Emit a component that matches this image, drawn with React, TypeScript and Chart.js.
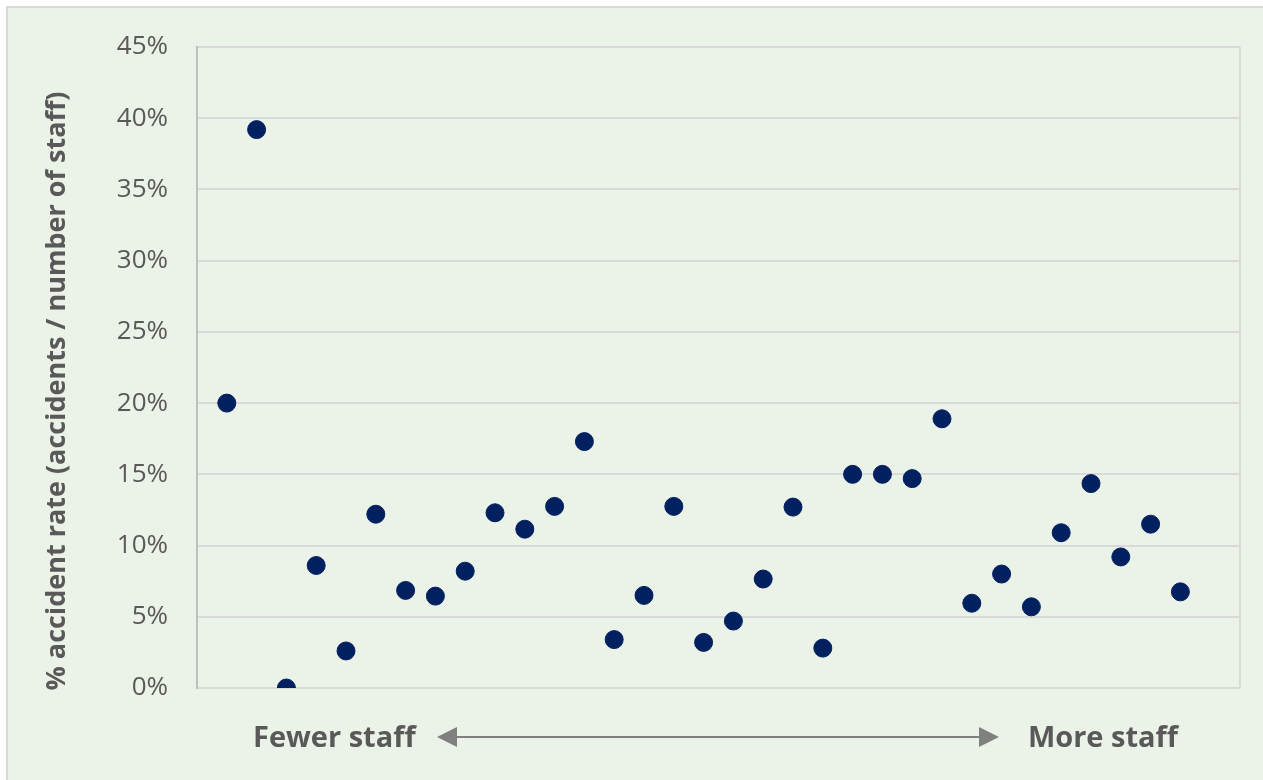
import React, { useEffect, useRef } from "react";
import { Chart, registerables } from "chart.js";

Chart.register(...registerables);

const staffRank: number[] = [
  1, 2, 3, 4, 5, 6, 7, 8, 9, 10, 11, 12, 13, 14, 15, 16, 17, 18, 19, 20, 21, 22,
  23, 24, 25, 26, 27, 28, 29, 30, 31, 32, 33,
];
const accidentRate: number[] = [
  20.0, 39.2, 0.0, 8.6, 2.6, 12.2, 6.85, 6.45, 8.2, 12.3, 11.15, 12.75, 17.3,
  3.4, 6.5, 12.75, 3.2, 4.7, 7.65, 12.7, 2.8, 15.0, 15.0, 14.7, 18.9, 5.95, 8.0,
  5.7, 10.9, 14.35, 9.2, 11.5, 6.75,
];
const yTicks: number[] = [0, 5, 10, 15, 20, 25, 30, 35, 40, 45];
const yTitle = "% accident rate (accidents / number of staff)";
const leftLabel = "Fewer staff";
const rightLabel = "More staff";

const textGrey = "#595959";

const overlayPlugin = {
  id: "overlay",
  afterDraw(chart: any) {
    const { ctx, chartArea } = chart;
    ctx.save();
    // right border of plot area
    ctx.strokeStyle = "#d9d9d9";
    ctx.lineWidth = 2;
    ctx.beginPath();
    ctx.moveTo(chartArea.right, chartArea.top);
    ctx.lineTo(chartArea.right, chartArea.bottom);
    ctx.stroke();

    // y axis title
    ctx.fillStyle = textGrey;
    ctx.font = "bold 27px 'Open Sans'";
    ctx.textAlign = "center";
    ctx.textBaseline = "middle";
    ctx.save();
    ctx.translate(57, 391);
    ctx.rotate(-Math.PI / 2);
    ctx.fillText(yTitle, 0, 0);
    ctx.restore();

    // bottom labels
    const y = 737;
    ctx.font = "bold 29px 'Open Sans'";
    ctx.textAlign = "left";
    ctx.fillText(leftLabel, 253, y + 2);
    ctx.textAlign = "right";
    ctx.fillText(rightLabel, 1178, y + 2);

    // arrow
    ctx.strokeStyle = "#808080";
    ctx.fillStyle = "#808080";
    ctx.lineWidth = 2;
    ctx.beginPath();
    ctx.moveTo(455, y);
    ctx.lineTo(981, y);
    ctx.stroke();
    ctx.beginPath();
    ctx.moveTo(437, y);
    ctx.lineTo(457, y - 10);
    ctx.lineTo(457, y + 10);
    ctx.closePath();
    ctx.fill();
    ctx.beginPath();
    ctx.moveTo(999, y);
    ctx.lineTo(979, y - 10);
    ctx.lineTo(979, y + 10);
    ctx.closePath();
    ctx.fill();
    ctx.restore();
  },
};

export default function App() {
  const ref = useRef<HTMLCanvasElement | null>(null);
  useEffect(() => {
    if (!ref.current) return;
    const chart = new Chart(ref.current, {
      type: "scatter",
      data: {
        datasets: [
          {
            label: "Accident rate",
            data: staffRank.map((x, i) => ({ x, y: accidentRate[i] })),
            backgroundColor: "#002060",
            borderColor: "#002060",
            pointRadius: 9,
            pointHoverRadius: 9,
          },
        ],
      },
      options: {
        animation: false,
        responsive: false,
        maintainAspectRatio: false,
        layout: { padding: { top: 47, right: 23, bottom: 92, left: 0 } },
        plugins: {
          legend: { display: false },
          tooltip: { enabled: false },
        },
        scales: {
          x: {
            type: "linear",
            min: 0,
            max: 35,
            display: false,
          },
          y: {
            type: "linear",
            min: 0,
            max: 45,
            afterFit(scale: any) {
              scale.width = 197;
            },
            afterBuildTicks(scale: any) {
              scale.ticks = yTicks.map((v) => ({ value: v }));
            },
            ticks: {
              color: textGrey,
              padding: 29,
              font: { family: "'Open Sans'", size: 26 },
              callback: (v: any) => `${v}%`,
            },
            grid: {
              color: "#d9d9d9",
              lineWidth: 2,
              drawTicks: false,
            },
            border: { color: "#bfbfbf", width: 2 },
          },
        },
      },
      plugins: [overlayPlugin],
    });
    return () => chart.destroy();
  }, []);

  return (
    <div
      style={{
        position: "fixed",
        left: 0,
        top: 0,
        width: 1263,
        height: 780,
        overflow: "hidden",
        background: "#ffffff",
      }}
    >
      <div
        style={{
          position: "absolute",
          left: 6,
          top: 6,
          width: 1280,
          height: 800,
          border: "2px solid #d9d9d9",
          background: "#ebf3e8",
        }}
      />
      <canvas
        ref={ref}
        width={1263}
        height={780}
        style={{ position: "absolute", left: 0, top: 0, width: 1263, height: 780 }}
      />
    </div>
  );
}
